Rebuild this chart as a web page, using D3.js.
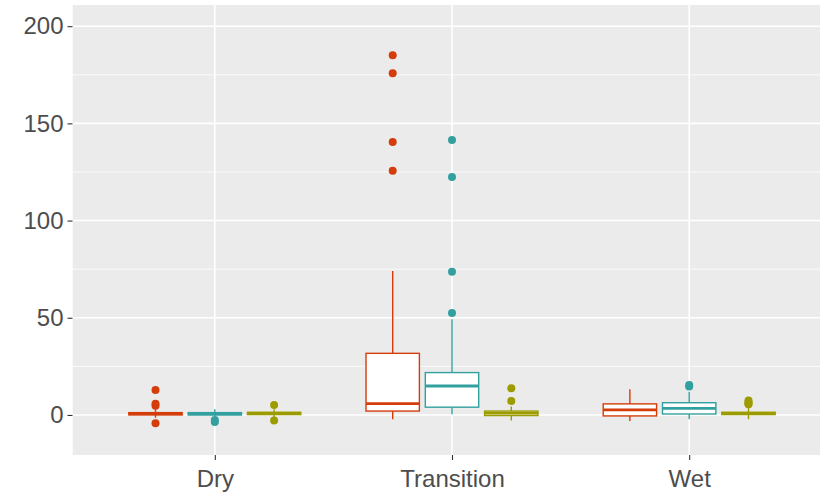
<!DOCTYPE html>
<html>
<head>
<meta charset="utf-8">
<script src="https://cdn.jsdelivr.net/npm/d3@7"></script>
<style>
  body { margin: 0; background: #fff; }
  svg { display: block; font-family: "Liberation Sans", Arial, sans-serif; }
</style>
</head>
<body>
<script>
// Box statistics, rows = categories, columns = series.
const categories = ["Dry", "Transition", "Wet"];
const series = ["s1", "s2", "s3"];
const colors = ["#D43D0A", "#33A0A0", "#9C9C00"];

const lowerWhisker = [[-1.5, -1.0, -1.0], [-2.2, 0.4, -2.9], [-3.1, -2.2, -2.2]];
const q1 = [[0.0, 0.0, 0.2], [2.0, 4.0, -0.3], [-0.5, 0.5, 0.2]];
const median = [[0.7, 0.6, 0.8], [5.8, 14.9, 0.9], [2.6, 3.4, 0.8]];
const q3 = [[1.2, 1.2, 1.4], [31.7, 21.8, 2.0], [5.7, 6.3, 1.4]];
const upperWhisker = [[3.0, 2.9, 3.0], [74.0, 49.2, 4.3], [13.2, 12.0, 4.0]];
const outliers = [
  [[12.9, 5.8, 4.8, -4.3], [-2.6, -3.6], [5.1, -2.9]],
  [[185, 175.8, 140.4, 125.6], [141.4, 122.4, 73.7, 52.4], [13.7, 7.2]],
  [[], [15.4, 14.6], [7.4, 6.6, 5.8, 5.5]]
];
const yTicks = [0, 50, 100, 150, 200];
const yMinor = [-25, 25, 75, 125, 175];

const width = 820;
const height = 495;
const panel = { left: 72.5, right: 831.5, top: 5, bottom: 455 };

const svg = d3.select("body").append("svg")
    .attr("width", width)
    .attr("height", height);

// Scales
const x = d3.scalePoint()
    .domain(categories)
    .range([panel.left, panel.right])
    .padding(0.6);

const dodge = d3.scaleBand()
    .domain(series)
    .range([-0.375 * x.step(), 0.375 * x.step()])
    .paddingInner(0.1)
    .paddingOuter(0.05);

const y = d3.scaleLinear()
    .domain([-20.6, 210.9])
    .range([panel.bottom, panel.top]);

// Panel background and grid
svg.append("clipPath").attr("id", "clip")
  .append("rect")
    .attr("x", panel.left)
    .attr("y", panel.top)
    .attr("width", width - panel.left)
    .attr("height", panel.bottom - panel.top);

const plot = svg.append("g").attr("clip-path", "url(#clip)");

plot.append("rect")
    .attr("x", panel.left)
    .attr("y", panel.top)
    .attr("width", panel.right - panel.left)
    .attr("height", panel.bottom - panel.top)
    .attr("fill", "#EBEBEB");

plot.selectAll(".minor")
    .data(yMinor)
    .enter().append("line")
    .attr("x1", panel.left).attr("x2", panel.right)
    .attr("y1", d => y(d)).attr("y2", d => y(d))
    .attr("stroke", "#fff")
    .attr("stroke-width", 0.8);

plot.selectAll(".major")
    .data(yTicks)
    .enter().append("line")
    .attr("x1", panel.left).attr("x2", panel.right)
    .attr("y1", d => y(d)).attr("y2", d => y(d))
    .attr("stroke", "#fff")
    .attr("stroke-width", 1.6);

plot.selectAll(".vgrid")
    .data(categories)
    .enter().append("line")
    .attr("x1", d => x(d)).attr("x2", d => x(d))
    .attr("y1", panel.top).attr("y2", panel.bottom)
    .attr("stroke", "#fff")
    .attr("stroke-width", 1.6);

// Boxes
const boxes = [];
categories.forEach((c, i) => {
  series.forEach((s, j) => {
    boxes.push({
      cx: x(c) + dodge(s) + dodge.bandwidth() / 2,
      color: colors[j],
      lo: lowerWhisker[i][j], q1: q1[i][j], med: median[i][j],
      q3: q3[i][j], hi: upperWhisker[i][j], out: outliers[i][j]
    });
  });
});

const bw = dodge.bandwidth();
const box = plot.selectAll(".box")
    .data(boxes)
    .enter().append("g");

box.append("line")
    .attr("x1", d => d.cx).attr("x2", d => d.cx)
    .attr("y1", d => y(d.q3)).attr("y2", d => y(d.hi))
    .attr("stroke", d => d.color)
    .attr("stroke-width", 1.4);

box.append("line")
    .attr("x1", d => d.cx).attr("x2", d => d.cx)
    .attr("y1", d => y(d.q1)).attr("y2", d => y(d.lo))
    .attr("stroke", d => d.color)
    .attr("stroke-width", 1.4);

box.append("rect")
    .attr("x", d => d.cx - bw / 2)
    .attr("y", d => y(d.q3))
    .attr("width", bw)
    .attr("height", d => y(d.q1) - y(d.q3))
    .attr("fill", "#fff")
    .attr("stroke", d => d.color)
    .attr("stroke-width", 1.4);

box.append("line")
    .attr("x1", d => d.cx - bw / 2).attr("x2", d => d.cx + bw / 2)
    .attr("y1", d => y(d.med)).attr("y2", d => y(d.med))
    .attr("stroke", d => d.color)
    .attr("stroke-width", 2.8);

box.selectAll("circle")
    .data(d => d.out.map(v => ({ v, cx: d.cx, color: d.color })))
    .enter().append("circle")
    .attr("cx", d => d.cx)
    .attr("cy", d => y(d.v))
    .attr("r", 4)
    .attr("fill", d => d.color);

// Axes
const yAxis = svg.append("g")
    .attr("transform", `translate(${panel.left},0)`)
    .call(d3.axisLeft(y).tickValues(yTicks).tickSize(5).tickPadding(4));

const xAxis = svg.append("g")
    .attr("transform", `translate(0,${panel.bottom})`)
    .call(d3.axisBottom(x).tickSize(5).tickPadding(10));

[yAxis, xAxis].forEach(a => {
  a.select(".domain").remove();
  a.selectAll(".tick line").attr("stroke", "#333").attr("stroke-width", 1.1);
  a.selectAll(".tick text")
      .attr("fill", "#4D4D4D")
      .style("font-size", "24px")
      .style("font-family", "'Liberation Sans', Arial, sans-serif");
});
</script>
</body>
</html>
